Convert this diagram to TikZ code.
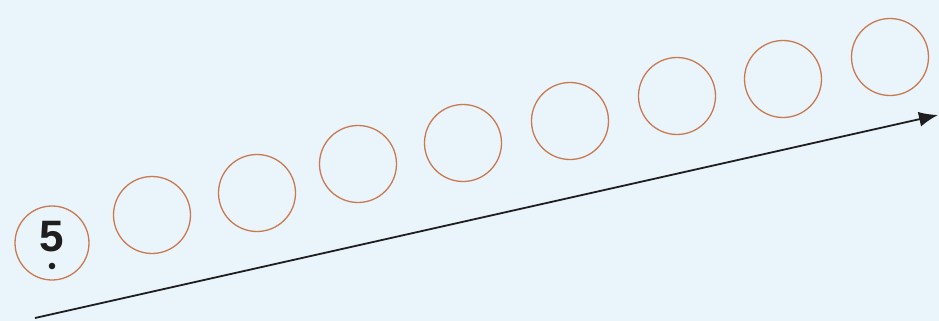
\documentclass[tikz,border=0pt]{standalone}
\usepackage{fontspec}
\setmainfont{Liberation Sans}
\usetikzlibrary{arrows.meta}
\definecolor{bgblue}{RGB}{234,244,251}
\definecolor{ring}{RGB}{200,122,82}
\definecolor{ink}{RGB}{30,30,30}
\begin{document}
\begin{tikzpicture}[x=1pt,y=-1pt,
  ringnode/.style={circle,draw=ring,line width=1.3pt,minimum size=77pt,inner sep=0pt},
  arrowline/.style={draw=ink,line width=1.8pt,-{Latex[length=19pt,width=15pt]}}]
\fill[bgblue] (0,0) rectangle (939,321);
\useasboundingbox (0,0) rectangle (939,321);
\node[ringnode,minimum size=74pt] (c1) at (52,243) {};
\node[font=\bfseries\fontsize{44}{44}\selectfont,text=ink,inner sep=0pt] (five) at (52,237) {5};
\fill[ink] (52,266) circle (3.3pt);
\node[ringnode] (c2) at (152,215) {};
\node[ringnode] (c3) at (257,193) {};
\node[ringnode] (c4) at (358,164) {};
\node[ringnode] (c5) at (463,143) {};
\node[ringnode] (c6) at (570,121) {};
\node[ringnode] (c7) at (677,96) {};
\node[ringnode] (c8) at (783,79) {};
\node[ringnode] (c9) at (890,57) {};
\coordinate (s) at (35,318);
\coordinate (e) at (938,115);
\draw[arrowline] (s) -- (e);
\end{tikzpicture}
\end{document}
